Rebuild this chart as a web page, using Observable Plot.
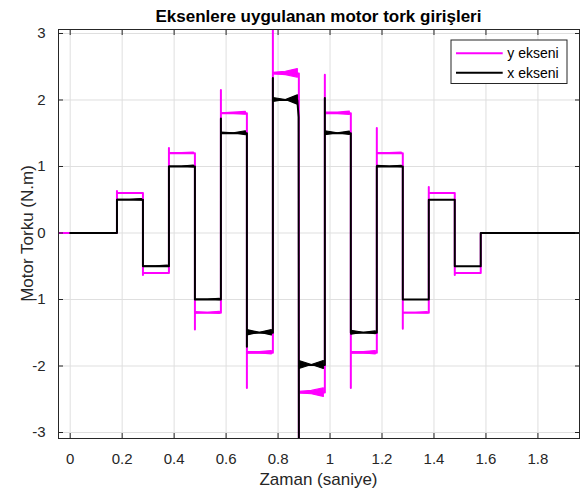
<!DOCTYPE html>
<html><head><meta charset="utf-8">
<script src="https://cdn.jsdelivr.net/npm/d3@7"></script>
<script src="https://cdn.jsdelivr.net/npm/@observablehq/plot@0.6"></script>
<style>body{margin:0;background:#fff}svg{display:block}</style>
</head><body><div id="chart"></div>
<script>
// ---- data ----
const transitions = [0.18, 0.28, 0.38, 0.48, 0.58, 0.68, 0.78, 0.88, 0.98, 1.08, 1.18, 1.28, 1.38, 1.48, 1.58];
const tEnd = 1.96;
const yStart = -0.045, xStart = 0;

// y ekseni (magenta)
const yLevels = [0.6, -0.6, 1.2, -1.2, 1.8, -1.8, 2.4, -2.4, 1.8, -1.8, 1.2, -1.2, 0.6, -0.6, 0];
const ySpikes = [0.63, -0.63, 1.28, -1.45, 2.15, -2.33, 3.3, -3.3, 2.38, -2.33, 1.58, -1.44, 0.69, -0.63, 0];
const yEnds = yLevels.slice();
const yBandStart = [0, 0, 0, 0.01, 0, 0.01, 0.01, 0.01, 0.01, 0.01, 0, 0, 0, 0, 0];
const yBandMid   = [0, 0, 0, 0, 0.01, 0.01, 0.025, 0.025, 0.01, 0.01, 0, 0, 0, 0, 0];
const yBandEnd   = [0, 0, 0.01, 0.015, 0.02, 0.025, 0.065, 0.065, 0.025, 0.025, 0.01, 0.01, 0, 0, 0];

// x ekseni (black)
const xLevels = [0.5, -0.5, 1.0, -1.0, 1.5, -1.5, 2.0, -1.985, 1.5, -1.5, 1.0, -1.0, 0.5, -0.5, 0];
const xSpikes = [0.5, -0.5, 1.0, -1.0, 1.72, -1.71, 2.33, -3.3, 2.03, -1.5, 1.0, -1.0, 0.5, -0.5, 0];
const xEnds   = [0.5, -0.5, 1.0, -1.0, 1.5, -1.5, 1.74, -1.985, 1.5, -1.5, 1.0, -1.0, 0.5, -0.5, 0];
const xBandStart = [0, 0, 0, 0, 0.01, 0.04, 0.03, 0.06, 0.03, 0.03, 0.01, 0, 0, 0, 0];
const xBandMid   = [0, 0, 0, 0, 0, 0, 0, 0, 0, 0, 0, 0, 0, 0, 0];
const xBandEnd   = [0.01, 0.01, 0.015, 0.01, 0.03, 0.04, 0.07, 0.06, 0.025, 0.02, 0.01, 0, 0, 0, 0];

const xTicks = [0, 0.2, 0.4, 0.6, 0.8, 1, 1.2, 1.4, 1.6, 1.8];
const yTicks = [-3, -2, -1, 0, 1, 2, 3];
const seriesNames = ["y ekseni", "x ekseni"];
const seriesColors = ["#ff00ff", "#000000"];

// ---- build tables ----
function buildPath(t0, levels, spikes, ends) {
  const pts = [{t: t0, v: 0}, {t: transitions[0], v: 0}];
  transitions.forEach((t, i) => {
    const tn = i < transitions.length - 1 ? transitions[i + 1] : tEnd;
    pts.push({t, v: spikes[i]}, {t, v: levels[i]});
    if (ends[i] !== levels[i]) {
      pts.push({t: tn - 0.006, v: levels[i]}, {t: tn - 0.001, v: ends[i]});
    } else {
      pts.push({t: tn, v: levels[i]});
    }
  });
  return pts;
}
function buildBand(levels, w0, wm, w1) {
  const out = [];
  transitions.forEach((t, i) => {
    if (!(w0[i] || wm[i] || w1[i])) return;
    const tn = i < transitions.length - 1 ? transitions[i + 1] : tEnd;
    const l = levels[i];
    [[t + 0.002, w0[i]], [(t + tn) / 2, wm[i]], [tn - 0.004, w1[i]]].forEach(([tt, w]) =>
      out.push({seg: i, t: tt, lo: l - w, hi: l + w}));
  });
  return out;
}
const yPath = buildPath(yStart, yLevels, ySpikes, yEnds);
const xPath = buildPath(xStart, xLevels, xSpikes, xEnds);
const yBand = buildBand(yLevels, yBandStart, yBandMid, yBandEnd);
const xBand = buildBand(xLevels, xBandStart, xBandMid, xBandEnd);

const W = 583, H = 490;
const ML = 58, MR = 4, MT = 29, MB = 52;
const axisColor = "#262626";
const font = "'Liberation Sans', Arial, Helvetica, sans-serif";

const plot = Plot.plot({
  width: W, height: H,
  marginLeft: ML, marginRight: MR, marginTop: MT, marginBottom: MB,
  style: {fontFamily: font, background: "#fff", color: axisColor},
  x: {domain: [-0.045, tEnd]},
  y: {domain: [-3.09, 3.06]},
  marks: [
    Plot.gridX(xTicks, {stroke: "#dfdfdf", strokeOpacity: 1}),
    Plot.gridY(yTicks, {stroke: "#dfdfdf", strokeOpacity: 1}),
    Plot.areaY(yBand, {x: "t", y1: "lo", y2: "hi", z: "seg", fill: seriesColors[0], stroke: seriesColors[0], strokeWidth: 1.2, clip: true}),
    Plot.line(yPath, {x: "t", y: "v", stroke: seriesColors[0], strokeWidth: 2, clip: true}),
    Plot.areaY(xBand, {x: "t", y1: "lo", y2: "hi", z: "seg", fill: seriesColors[1], stroke: seriesColors[1], strokeWidth: 1.2, clip: true}),
    Plot.line(xPath, {x: "t", y: "v", stroke: seriesColors[1], strokeWidth: 2, clip: true}),
    Plot.frame({stroke: axisColor}),
    Plot.axisX(xTicks, {anchor: "bottom", tickSize: -5, tickPadding: 20, fontSize: 15, label: null, tickFormat: d => String(d), stroke: axisColor, fill: axisColor}),
    Plot.axisX(xTicks, {anchor: "top", tickSize: -5, tickFormat: () => "", label: null, stroke: axisColor}),
    Plot.axisY(yTicks, {anchor: "left", tickSize: -5, tickPadding: 18, fontSize: 15, label: null, tickFormat: d => String(d), stroke: axisColor, fill: axisColor}),
    Plot.axisY(yTicks, {anchor: "right", tickSize: -5, tickFormat: () => "", label: null, stroke: axisColor})
  ]
});

const svg = d3.select(plot);
// title
svg.append("text").attr("x", (ML + W - MR) / 2).attr("y", 22)
  .attr("text-anchor", "middle").attr("font-size", 17).attr("font-weight", "bold")
  .attr("fill", "#000").attr("font-family", font)
  .text("Eksenlere uygulanan motor tork girişleri");
// axis labels
svg.append("text").attr("x", (ML + W - MR) / 2).attr("y", 485)
  .attr("text-anchor", "middle").attr("font-size", 17).attr("fill", axisColor).attr("font-family", font)
  .text("Zaman (saniye)");
svg.append("text").attr("transform", `translate(32.5,${(MT + H - MB) / 2}) rotate(-90)`)
  .attr("text-anchor", "middle").attr("font-size", 17).attr("fill", axisColor).attr("font-family", font)
  .text("Motor Torku (N.m)");
// legend
const lg = svg.append("g").attr("font-family", font);
lg.append("rect").attr("x", 451).attr("y", 40).attr("width", 116).attr("height", 43.5)
  .attr("fill", "#fff").attr("stroke", axisColor).attr("stroke-width", 1);
seriesNames.forEach((name, i) => {
  const yy = 53.3 + i * 19.4;
  lg.append("line").attr("x1", 456).attr("x2", 502.7).attr("y1", yy).attr("y2", yy)
    .attr("stroke", seriesColors[i]).attr("stroke-width", 2);
  lg.append("text").attr("x", 507.3).attr("y", yy).attr("dy", "0.35em")
    .attr("text-anchor", "start").attr("font-size", 14).attr("fill", "#000").text(name);
});
document.getElementById("chart").appendChild(plot);
</script>
</body></html>
